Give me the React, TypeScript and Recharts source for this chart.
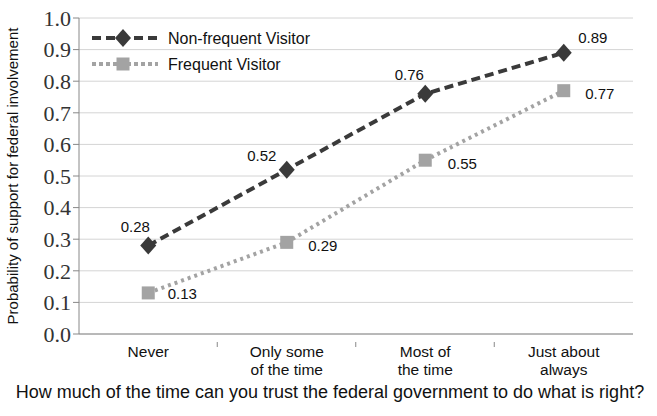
import { ComposedChart, Line, XAxis, YAxis, CartesianGrid, LabelList } from "recharts";

const categories = ["Never", "Only some\nof the time", "Most of\nthe time", "Just about\nalways"];
const nonFrequent = [0.28, 0.52, 0.76, 0.89];
const frequent = [0.13, 0.29, 0.55, 0.77];
const yTicks = [0, 0.1, 0.2, 0.3, 0.4, 0.5, 0.6, 0.7, 0.8, 0.9, 1.0];

const data = categories.map((c, i) => ({ cat: c, nonFrequent: nonFrequent[i], frequent: frequent[i] }));

const DARK = "#3a3a3a";
const LIGHT = "#a3a3a3";
const sans = "Liberation Sans, Arial, sans-serif";

const Diamond = ({ cx, cy }: any) => (
  <path d={`M${cx},${cy - 9} L${cx + 8},${cy} L${cx},${cy + 9} L${cx - 8},${cy} Z`} fill={DARK} />
);

const Square = ({ cx, cy }: any) => (
  <rect x={cx - 6.5} y={cy - 6.5} width={13} height={13} fill={LIGHT} />
);

// label offsets relative to each point
const darkOffsets = [[-13, -19], [-25, -14], [-16, -19], [29, -15]];
const lightOffsets = [[34, 1], [36, 3], [37, 3], [36, 3]];

const makeLabel = (offsets: number[][]) => (props: any) => {
  const { x, y, value, index } = props;
  const [dx, dy] = offsets[index];
  return (
    <text x={x + dx} y={y + dy} textAnchor="middle" dominantBaseline="central" fontFamily={sans} fontSize={15} fill="#111">
      {value.toFixed(2)}
    </text>
  );
};

const XTick = ({ x, y, payload, index }: any) => {
  const lines = String(payload.value).split("\n");
  return (
    <g>
      {index < categories.length - 1 && <line x1={x + 69} x2={x + 69} y1={y} y2={y + 5} stroke="#888" />}
      <text x={x} y={y + 15} textAnchor="middle" fontFamily={sans} fontSize={15.5} fill="#111">
        {lines.map((l, i) => (
          <tspan key={i} x={x} dy={i === 0 ? 0 : 18}>{l}</tspan>
        ))}
      </text>
    </g>
  );
};

const LegendBox = () => (
  <svg width={260} height={60} style={{ position: "absolute", left: 88, top: 26 }}>
    <line x1={4} x2={70} y1={12} y2={12} stroke={DARK} strokeWidth={4} strokeDasharray="9 5" />
    <Diamond cx={35} cy={12} />
    <text x={80} y={12} dominantBaseline="central" fontFamily={sans} fontSize={16} fill="#111">Non-frequent Visitor</text>
    <line x1={4} x2={70} y1={38} y2={38} stroke={LIGHT} strokeWidth={4} strokeDasharray="4 3" />
    <Square cx={35} cy={38} />
    <text x={80} y={38} dominantBaseline="central" fontFamily={sans} fontSize={16} fill="#111">Frequent Visitor</text>
  </svg>
);

export default function App() {
  return (
    <div style={{ position: "absolute", left: 0, top: 0, width: 657, height: 416, background: "#fff" }}>
      <ComposedChart width={657} height={416} data={data} margin={{ top: 18, right: 24, left: 0, bottom: 0 }}>
        <CartesianGrid vertical={false} stroke="#d4d4d4" />
        <XAxis
          dataKey="cat"
          scale="band"
          stroke="#888"
          tickLine={false}
          tick={<XTick />}
          height={82}
          interval={0}
          label={{ value: "How much of the time can you trust the federal government to do what is right?", position: "insideBottom", offset: 18, dx: -26, fontFamily: sans, fontSize: 18, fill: "#111" }}
        />
        <YAxis
          domain={[0, 1]}
          ticks={yTicks}
          interval={0}
          width={79}
          stroke="#888"
          tickSize={6}
          tickFormatter={(v: number) => v.toFixed(1)}
          tick={{ fontFamily: "Liberation Serif, Times New Roman, serif", fontSize: 22, fill: "#333" }}
          label={{ value: "Probability of support for federal involvement", angle: -90, position: "insideLeft", dx: 8, fontFamily: sans, fontSize: 15, fill: "#111", style: { textAnchor: "middle" } }}
        />
        <Line
          type="linear"
          dataKey="nonFrequent"
          stroke={DARK}
          strokeWidth={4}
          strokeDasharray="9 5"
          dot={<Diamond />}
          activeDot={false}
          isAnimationActive={false}
        >
          <LabelList dataKey="nonFrequent" content={makeLabel(darkOffsets)} />
        </Line>
        <Line
          type="linear"
          dataKey="frequent"
          stroke={LIGHT}
          strokeWidth={4}
          strokeDasharray="3 4"
          dot={<Square />}
          activeDot={false}
          isAnimationActive={false}
        >
          <LabelList dataKey="frequent" content={makeLabel(lightOffsets)} />
        </Line>
      </ComposedChart>
      <LegendBox />
    </div>
  );
}
